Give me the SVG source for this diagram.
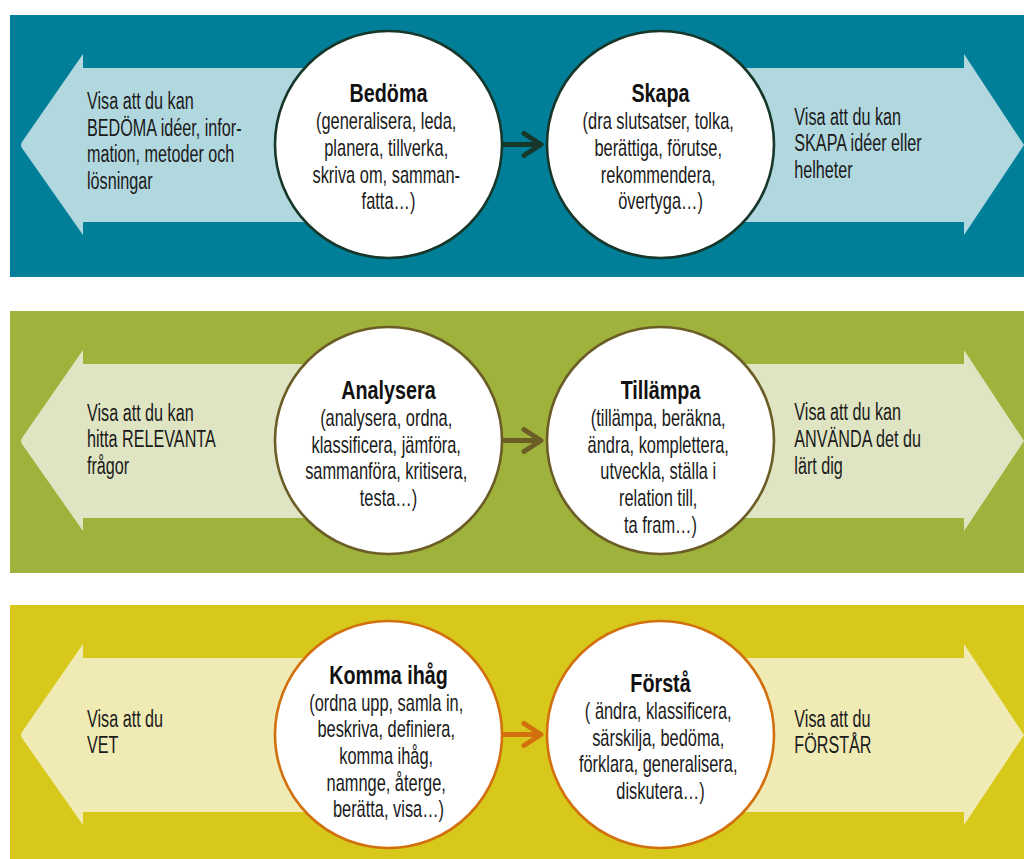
<svg xmlns="http://www.w3.org/2000/svg" width="1024" height="859" viewBox="0 0 1024 859">
  <style>
    .t { font-family: "Liberation Sans", Arial, sans-serif; font-size: 23px; fill: #1a1a1a; }
    .h { font-family: "Liberation Sans", Arial, sans-serif; font-size: 26px; font-weight: bold; fill: #111; }
    .c { text-anchor: middle; }
    .node { fill: #ffffff; stroke-width: 2.6; }
    .conn { fill: none; stroke-width: 5; stroke-linecap: round; stroke-linejoin: round; }
  </style>
  <rect width="1024" height="859" fill="#ffffff"/>

  <!-- Band 1: Bedöma / Skapa -->
  <g id="band1">
    <rect x="10" y="15" width="1014" height="262" fill="#017f99"/>
    <path d="M400 68 L83 68 L83 54 L22 142 Q20 145 22 148 L83 235 L83 222 L400 222 Z" fill="#b2d8df"/>
    <path d="M660 68 L964 68 L964 54 L1024 145 L964 235 L964 222 L660 222 Z" fill="#b2d8df"/>
    <text class="t" transform="translate(87,0) scale(0.703,1)">
      <tspan x="0" y="109">Visa att du kan</tspan>
      <tspan x="0" y="135.7">BEDÖMA idéer, infor-</tspan>
      <tspan x="0" y="162.3">mation, metoder och</tspan>
      <tspan x="0" y="189">lösningar</tspan>
    </text>
    <text class="t" transform="translate(794.3,0) scale(0.703,1)">
      <tspan x="0" y="124.7">Visa att du kan</tspan>
      <tspan x="0" y="151.3">SKAPA idéer eller</tspan>
      <tspan x="0" y="178">helheter</tspan>
    </text>
  </g>

  <!-- Band 2: Analysera / Tillämpa -->
  <g id="band2">
    <rect x="10" y="311" width="1014" height="262" fill="#9fb23b"/>
    <path d="M400 364 L83 364 L83 350 L22 438 Q20 441 22 444 L83 531 L83 518 L400 518 Z" fill="#dfe5c2"/>
    <path d="M660 364 L964 364 L964 350 L1024 441 L964 531 L964 518 L660 518 Z" fill="#dfe5c2"/>
    <text class="t" transform="translate(87,0) scale(0.703,1)">
      <tspan x="0" y="420.7">Visa att du kan</tspan>
      <tspan x="0" y="447.3">hitta RELEVANTA</tspan>
      <tspan x="0" y="474">frågor</tspan>
    </text>
    <text class="t" transform="translate(794.3,0) scale(0.703,1)">
      <tspan x="0" y="420.3">Visa att du kan</tspan>
      <tspan x="0" y="447">ANVÄNDA det du</tspan>
      <tspan x="0" y="473.7">lärt dig</tspan>
    </text>
  </g>

  <!-- Band 3: Komma ihåg / Förstå -->
  <g id="band3">
    <rect x="10" y="605" width="1014" height="254" fill="#d7c81b"/>
    <path d="M400 658 L83 658 L83 644 L22 732 Q20 735 22 738 L83 825 L83 812 L400 812 Z" fill="#f0ebb5"/>
    <path d="M660 658 L964 658 L964 644 L1024 735 L964 825 L964 812 L660 812 Z" fill="#f0ebb5"/>
    <text class="t" transform="translate(87,0) scale(0.703,1)">
      <tspan x="0" y="726.7">Visa att du</tspan>
      <tspan x="0" y="753.3">VET</tspan>
    </text>
    <text class="t" transform="translate(794.3,0) scale(0.703,1)">
      <tspan x="0" y="726.7">Visa att du</tspan>
      <tspan x="0" y="753.3">FÖRSTÅR</tspan>
    </text>
  </g>

  <!-- Connectors -->
  <g id="connectors">
    <g stroke="#16372a" class="conn">
      <line x1="502" y1="144.5" x2="540" y2="144.5"/>
      <polyline points="524,133.5 541,144.5 524,155.5"/>
    </g>
    <g stroke="#6b5d26" class="conn">
      <line x1="502" y1="440.5" x2="540" y2="440.5"/>
      <polyline points="524,429.5 541,440.5 524,451.5"/>
    </g>
    <g stroke="#d2700e" class="conn">
      <line x1="502" y1="734.5" x2="540" y2="734.5"/>
      <polyline points="524,723.5 541,734.5 524,745.5"/>
    </g>
  </g>

  <!-- Nodes -->
  <g id="node-bedoma">
    <circle class="node" cx="388.5" cy="144.5" r="113.5" stroke="#16372a"/>
    <text class="h c" transform="translate(388.5,0) scale(0.76,1)"><tspan x="0" y="102.3">Bedöma</tspan></text>
    <text class="t c" transform="translate(388.5,0) scale(0.713,1)">
      <tspan x="0" y="129.5">(generalisera, leda,</tspan>
      <tspan x="0" y="156">planera, tillverka,</tspan>
      <tspan x="0" y="182.7">skriva om, samman-</tspan>
      <tspan x="0" y="209.3">fatta…)</tspan>
    </text>
  </g>

  <g id="node-skapa">
    <circle class="node" cx="660.5" cy="144.5" r="113.5" stroke="#16372a"/>
    <text class="h c" transform="translate(660.5,0) scale(0.76,1)"><tspan x="0" y="102.3">Skapa</tspan></text>
    <text class="t c" transform="translate(660.5,0) scale(0.713,1)">
      <tspan x="0" y="129.5">(dra slutsatser, tolka,</tspan>
      <tspan x="0" y="156">berättiga, förutse,</tspan>
      <tspan x="0" y="182.7">rekommendera,</tspan>
      <tspan x="0" y="209.3">övertyga…)</tspan>
    </text>
  </g>

  <g id="node-analysera">
    <circle class="node" cx="388.5" cy="440.5" r="113.5" stroke="#6b5d26"/>
    <text class="h c" transform="translate(388.5,0) scale(0.76,1)"><tspan x="0" y="399">Analysera</tspan></text>
    <text class="t c" transform="translate(388.5,0) scale(0.713,1)">
      <tspan x="0" y="426">(analysera, ordna,</tspan>
      <tspan x="0" y="452.7">klassificera, jämföra,</tspan>
      <tspan x="0" y="479.3">sammanföra, kritisera,</tspan>
      <tspan x="0" y="506">testa…)</tspan>
    </text>
  </g>

  <g id="node-tillampa">
    <circle class="node" cx="660.5" cy="440.5" r="113.5" stroke="#6b5d26"/>
    <text class="h c" transform="translate(660.5,0) scale(0.76,1)"><tspan x="0" y="399">Tillämpa</tspan></text>
    <text class="t c" transform="translate(660.5,0) scale(0.713,1)">
      <tspan x="0" y="426">(tillämpa, beräkna,</tspan>
      <tspan x="0" y="452.7">ändra, komplettera,</tspan>
      <tspan x="0" y="479.3">utveckla, ställa i</tspan>
      <tspan x="0" y="506">relation till,</tspan>
      <tspan x="0" y="532.7">ta fram…)</tspan>
    </text>
  </g>

  <g id="node-komma-ihag">
    <circle class="node" cx="388.5" cy="734.5" r="113.5" stroke="#d2700e"/>
    <text class="h c" transform="translate(388.5,0) scale(0.76,1)"><tspan x="0" y="684.3">Komma ihåg</tspan></text>
    <text class="t c" transform="translate(388.5,0) scale(0.713,1)">
      <tspan x="0" y="710.7">(ordna upp, samla in,</tspan>
      <tspan x="0" y="737.3">beskriva, definiera,</tspan>
      <tspan x="0" y="764">komma ihåg,</tspan>
      <tspan x="0" y="790.7">namnge, återge,</tspan>
      <tspan x="0" y="817.3">berätta, visa…)</tspan>
    </text>
  </g>

  <g id="node-forsta">
    <circle class="node" cx="660.5" cy="734.5" r="113.5" stroke="#d2700e"/>
    <text class="h c" transform="translate(660.5,0) scale(0.76,1)"><tspan x="0" y="692.3">Förstå</tspan></text>
    <text class="t c" transform="translate(660.5,0) scale(0.713,1)">
      <tspan x="0" y="719">( ändra, klassificera,</tspan>
      <tspan x="0" y="745.7">särskilja, bedöma,</tspan>
      <tspan x="0" y="772.3">förklara, generalisera,</tspan>
      <tspan x="0" y="799">diskutera…)</tspan>
    </text>
  </g>
</svg>
